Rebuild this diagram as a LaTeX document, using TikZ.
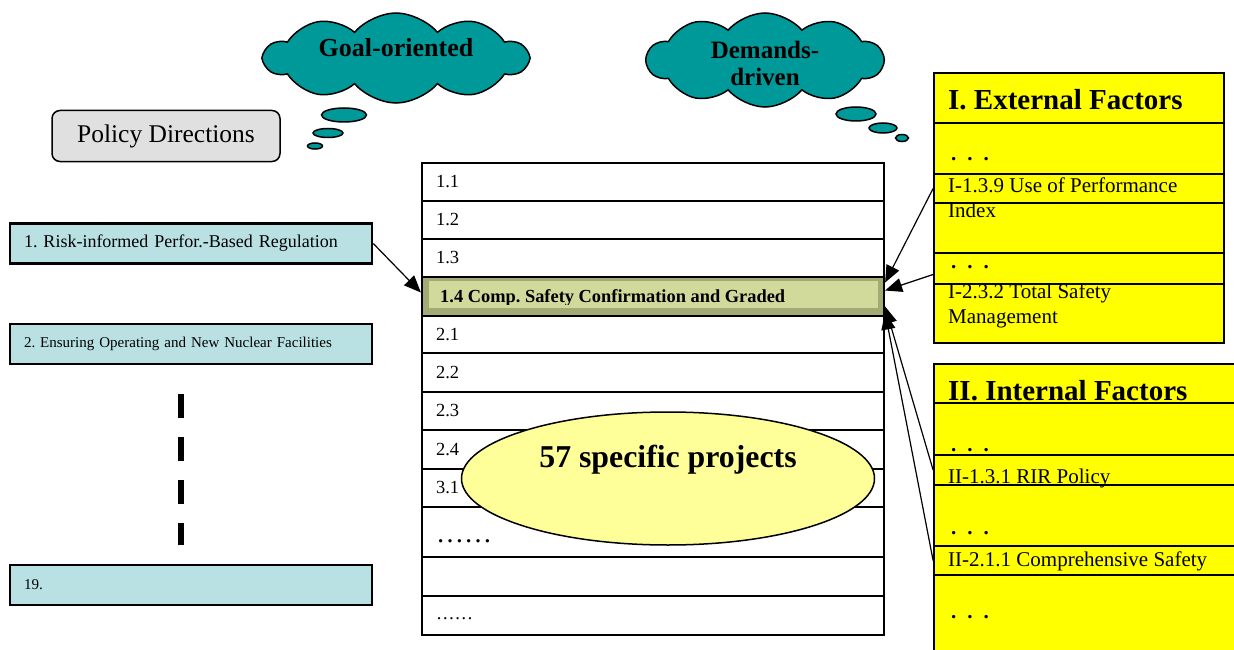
\documentclass[tikz,border=0pt]{standalone}
\usepackage{fontspec}
\setmainfont{Liberation Serif}
\usetikzlibrary{shapes.geometric,shapes.symbols,arrows.meta}
\frenchspacing

\definecolor{cloudteal}{HTML}{009999}
\definecolor{dirblue}{HTML}{B9E1E4}
\definecolor{polgray}{HTML}{E0E0E0}
\definecolor{rowolive}{HTML}{D1D99B}
\definecolor{rowolivedk}{HTML}{A3AA73}
\definecolor{projyellow}{HTML}{FFFF99}
\definecolor{factyellow}{HTML}{FFFF00}

\begin{document}
\begin{tikzpicture}[x=1pt,y=-1pt,
  dirbox/.style={draw,line width=2.5pt,fill=dirblue,text width=334pt,align=left,inner xsep=14pt,inner ysep=0pt,minimum height=40pt},
  prow/.style={draw,line width=2.2pt,fill=white,text width=434pt,align=left,inner xsep=14pt,inner ysep=0pt,font=\fontsize{18.5}{22}\selectfont},
  frow/.style={draw,line width=1.8pt,fill=factyellow,inner sep=0pt},
  ftext/.style={anchor=base west,inner sep=0pt,align=left,font=\fontsize{21}{25}\selectfont},
  fhead/.style={anchor=west,inner sep=0pt,font=\bfseries\fontsize{29}{32}\selectfont},
  fdots/.style={anchor=west,inner sep=0pt,font=\bfseries\fontsize{21}{25}\selectfont},
  thought/.style={cloud,cloud puffs=10,cloud puff arc=100,cloud ignores aspect,draw,line width=1.5pt,fill=cloudteal},
  bubble/.style={ellipse,draw,line width=1.5pt,fill=cloudteal,inner sep=0pt},
  link/.style={line width=1.2pt,-{Triangle[length=17pt,width=14pt]}}]
\useasboundingbox (0,0) rectangle (1234,650);

% thought clouds
\node[thought,minimum width=263pt,minimum height=90pt] (goal) at (396,58) {};
\node[font=\bfseries\fontsize{26}{28}\selectfont] at (396,48) {Goal-oriented};
\node[bubble,minimum width=45pt,minimum height=14pt] (goal1) at (344,115) {};
\node[bubble,minimum width=30pt,minimum height=9pt] (goal2) at (328,133) {};
\node[bubble,minimum width=15pt,minimum height=6pt] (goal3) at (315,146) {};

\node[thought,minimum width=236pt,minimum height=94pt] (dem) at (765,60) {};
\node[align=center,font=\bfseries\fontsize{25}{27}\selectfont] at (765,63) {Demands-\\driven};
\node[bubble,minimum width=40pt,minimum height=14pt] (dem1) at (856,114) {};
\node[bubble,minimum width=28pt,minimum height=10pt] (dem2) at (883,128) {};
\node[bubble,minimum width=13pt,minimum height=7pt] (dem3) at (902,138) {};

% policy directions
\node[draw,line width=1.5pt,rounded corners=8pt,fill=polgray,minimum width=228pt,minimum height=51pt,
  font=\fontsize{25.5}{28}\selectfont] (pol) at (166,136) {Policy Directions};
\node[dirbox,font=\fontsize{18}{22}\selectfont] (pd1) at (191,243.5) {1. Risk-informed Perfor.-Based Regulation};
\node[dirbox,font=\fontsize{15}{18}\selectfont] (pd2) at (191,344) {2. Ensuring Operating and New Nuclear Facilities};
\node[dirbox,font=\fontsize{15}{18}\selectfont] (pd19) at (191,585) {19.};
\draw[line width=6.5pt,dash pattern=on 24pt off 19pt] (181,394) -- (181,545);

% project table
\foreach \lab/\top/\bot [count=\i] in {1.1/163/201,1.2/201/239,1.3/239/277,2.1/316/353,2.2/353/392,
  2.3/392/430,2.4/430/469,3.1/469/507,{}/507/557,{}/557/596,{}/596/635}{
  \pgfmathsetmacro\h{\bot-\top}
  \pgfmathsetmacro\c{(\top+\bot)/2}
  \node[prow,minimum height=\h pt] (r\i) at (653,\c) {\lab};
}
\node[anchor=west,inner sep=0pt,font=\fontsize{28}{30}\selectfont] at (436,541) {……};
\node[anchor=west,inner sep=0pt,font=\fontsize{18.5}{22}\selectfont] at (436,619) {……};

\node[prow,fill=rowolivedk,minimum height=39pt] (p14) at (653,296.5) {};
\fill[rowolive] (429,281) rectangle (878,308);
\begin{scope}
  \clip (429,281) rectangle (878,304);
  \node[anchor=base west,inner sep=0pt,font=\bfseries\fontsize{18.4}{22}\selectfont] at (440,302.5)
    {1.4 Comp. Safety Confirmation and Graded};
\end{scope}

\node[ellipse,draw,line width=1.5pt,fill=projyellow,minimum width=413pt,minimum height=133pt] (proj) at (668,478.5) {};
\node[font=\bfseries\fontsize{31.8}{34}\selectfont] at (668,460) {57 specific projects};

% external factors
\foreach \nm/\top/\bot in {exthd/73/123,extd1/123/174,ext139/174/203,extidx/203/253,extd2/253/284,ext232/284/343}{
  \pgfmathsetmacro\h{\bot-\top}
  \pgfmathsetmacro\c{(\top+\bot)/2}
  \node[frow,minimum width=290pt,minimum height=\h pt] (\nm) at (1079,\c) {};
}
\node[fhead] at (948,100) {I. External Factors};
\node[fdots] at (951,159) {.\hspace{11pt}.\hspace{11pt}.};
\node[ftext] at (948,217) {I-1.3.9 Use of Performance\\Index};
\node[fdots] at (951,267) {.\hspace{11pt}.\hspace{11pt}.};
\node[ftext] at (948,323) {I-2.3.2 Total Safety\\Management};

% internal factors
\foreach \nm/\top/\bot in {inthd/364/403,intd1/403/455,int131/455/485,intd2/485/546,int211/546/575,intd3/575/660}{
  \pgfmathsetmacro\h{\bot-\top}
  \pgfmathsetmacro\c{(\top+\bot)/2}
  \node[frow,minimum width=306pt,minimum height=\h pt] (\nm) at (1087,\c) {};
}
\node[fhead] at (948,391) {II. Internal Factors};
\node[fdots] at (951,450) {.\hspace{11pt}.\hspace{11pt}.};
\node[ftext] at (948,483) {II-1.3.1 RIR Policy};
\node[fdots] at (951,533) {.\hspace{11pt}.\hspace{11pt}.};
\node[ftext] at (948,566) {II-2.1.1 Comprehensive Safety};
\node[fdots] at (951,617) {.\hspace{11pt}.\hspace{11pt}.};

% links to 1.4
\draw[link] (pd1.east) -- ([yshift=4pt]p14.west);
\draw[link] (ext139.west) -- ([yshift=14pt]p14.east);
\draw[link] ([yshift=-6pt]extd2.west) -- ([yshift=6pt]p14.east);
\draw[link] (int131.west) -- ([yshift=-10pt]p14.east);
\draw[link] (int211.west) -- ([yshift=-16pt]p14.east);
\end{tikzpicture}
\end{document}
